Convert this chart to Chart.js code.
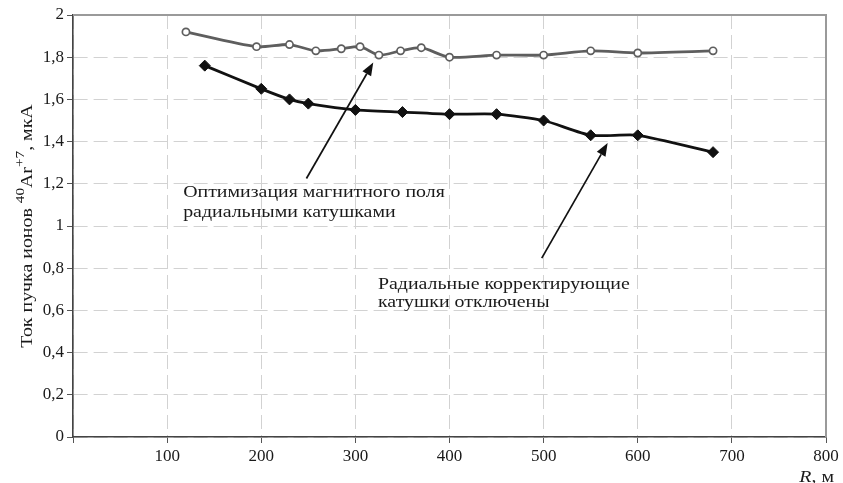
<!DOCTYPE html>
<html>
<head>
<meta charset="utf-8">
<script src="https://cdn.jsdelivr.net/npm/chart.js@4.4.1/dist/chart.umd.min.js"></script>
<style>
  html, body { margin: 0; padding: 0; background: #fff; }
  #wrap { width: 843px; height: 483px; }
</style>
</head>
<body>
<div id="wrap"><canvas id="c" width="843" height="483"></canvas></div>
<script>
// Beam current vs. radius, two operating modes
const rOptimized = [120, 195, 230, 258, 285, 305, 325, 348, 370, 400, 450, 500, 550, 600, 680];
const iOptimized = [1.92, 1.85, 1.86, 1.83, 1.84, 1.85, 1.81, 1.83, 1.845, 1.80, 1.81, 1.81, 1.83, 1.82, 1.83];

const rCoilsOff = [140, 200, 230, 250, 300, 350, 400, 450, 500, 550, 600, 680];
const iCoilsOff = [1.76, 1.65, 1.60, 1.58, 1.55, 1.54, 1.53, 1.53, 1.50, 1.43, 1.43, 1.35];

const xTicks = [0, 100, 200, 300, 400, 500, 600, 700, 800];
const yTicks = [0, 0.2, 0.4, 0.6, 0.8, 1, 1.2, 1.4, 1.6, 1.8, 2];

// Callout texts with arrows (data coordinates)
const notes = [
  { lines: ['Оптимизация магнитного поля', 'радиальными катушками'], x: 117, y: [1.158, 1.066],
    arrow: { from: [248, 1.225], to: [319, 1.775] } },
  { lines: ['Радиальные корректирующие', 'катушки отключены'], x: 324, y: [0.722, 0.636],
    arrow: { from: [498, 0.848], to: [568, 1.393] } }
];

const SERIF = '"Liberation Serif", "DejaVu Serif", serif';
const TEXT_STRETCH = 1.17;

function toPoints(xs, ys) { return xs.map((x, i) => ({ x: x, y: ys[i] })); }

// text widened along its own direction
function wideText(ctx, t, x, y) {
  ctx.save();
  ctx.translate(x, y);
  ctx.scale(TEXT_STRETCH, 1);
  ctx.fillText(t, 0, 0);
  ctx.restore();
  return ctx.measureText(t).width * TEXT_STRETCH;
}

const decorPlugin = {
  id: 'decor',
  afterDraw(chart) {
    const { ctx, chartArea: a, scales: { x, y } } = chart;
    ctx.save();
    // top and right frame
    ctx.strokeStyle = '#9a9a9a';
    ctx.lineWidth = 2;
    ctx.beginPath();
    ctx.moveTo(a.left, a.top);
    ctx.lineTo(a.right, a.top);
    ctx.lineTo(a.right, a.bottom);
    ctx.stroke();

    // callouts
    ctx.font = '17px ' + SERIF;
    ctx.textBaseline = 'middle';
    ctx.textAlign = 'left';
    notes.forEach(n => {
      ctx.fillStyle = '#1a1a1a';
      n.lines.forEach((t, i) => wideText(ctx, t, x.getPixelForValue(n.x), y.getPixelForValue(n.y[i])));
      const x1 = x.getPixelForValue(n.arrow.from[0]), y1 = y.getPixelForValue(n.arrow.from[1]);
      const x2 = x.getPixelForValue(n.arrow.to[0]), y2 = y.getPixelForValue(n.arrow.to[1]);
      const ang = Math.atan2(y2 - y1, x2 - x1);
      const hl = 13, hw = 5;
      const bx = x2 - hl * Math.cos(ang), by = y2 - hl * Math.sin(ang);
      ctx.strokeStyle = '#111';
      ctx.lineWidth = 1.7;
      ctx.beginPath();
      ctx.moveTo(x1, y1);
      ctx.lineTo(bx, by);
      ctx.stroke();
      ctx.fillStyle = '#111';
      ctx.beginPath();
      ctx.moveTo(x2, y2);
      ctx.lineTo(bx + hw * Math.sin(ang), by - hw * Math.cos(ang));
      ctx.lineTo(bx - hw * Math.sin(ang), by + hw * Math.cos(ang));
      ctx.closePath();
      ctx.fill();
    });

    // x axis title: italic R, regular ", м"
    ctx.textBaseline = 'alphabetic';
    ctx.fillStyle = '#1a1a1a';
    const tailTxt = ', м';
    ctx.font = '17px ' + SERIF;
    const wTail = ctx.measureText(tailTxt).width * TEXT_STRETCH;
    ctx.font = 'italic 17px ' + SERIF;
    const wR = ctx.measureText('R').width * TEXT_STRETCH;
    const xr = 834;
    wideText(ctx, 'R', xr - wTail - wR, 482);
    ctx.font = '17px ' + SERIF;
    wideText(ctx, tailTxt, xr - wTail, 482);

    // y axis title with superscripts, rotated
    const parts = [
      { t: 'Ток пучка ионов ', sup: false },
      { t: '40', sup: true },
      { t: 'Ar', sup: false },
      { t: '+7', sup: true },
      { t: ', мкА', sup: false }
    ];
    const fMain = '17px ' + SERIF, fSup = '13px ' + SERIF;
    let total = 0;
    parts.forEach(p => { ctx.font = p.sup ? fSup : fMain; p.w = ctx.measureText(p.t).width * TEXT_STRETCH; total += p.w; });
    ctx.translate(32, 226);
    ctx.rotate(-Math.PI / 2);
    let cx = -total / 2;
    parts.forEach(p => {
      ctx.font = p.sup ? fSup : fMain;
      wideText(ctx, p.t, cx, p.sup ? -8 : 0);
      cx += p.w;
    });
    ctx.restore();
  }
};

new Chart(document.getElementById('c'), {
  type: 'scatter',
  data: {
    datasets: [
      {
        data: toPoints(rOptimized, iOptimized),
        showLine: true,
        borderColor: '#5e5e5e',
        borderWidth: 2.8,
        tension: 0.25,
        pointStyle: 'circle',
        pointRadius: 3.6,
        pointBorderWidth: 1.7,
        pointBorderColor: '#5e5e5e',
        pointBackgroundColor: '#ffffff'
      },
      {
        data: toPoints(rCoilsOff, iCoilsOff),
        showLine: true,
        borderColor: '#111111',
        borderWidth: 2.8,
        tension: 0.2,
        pointStyle: 'rectRot',
        pointRadius: 5.5,
        pointBorderWidth: 1,
        pointBorderColor: '#111111',
        pointBackgroundColor: '#111111'
      }
    ]
  },
  options: {
    responsive: false,
    animation: false,
    devicePixelRatio: 1,
    layout: { padding: { top: 15, right: 17, left: 0, bottom: 0 } },
    plugins: { legend: { display: false }, tooltip: { enabled: false } },
    scales: {
      x: {
        type: 'linear',
        min: 0, max: 800,
        afterBuildTicks(s) { s.ticks = xTicks.map(v => ({ value: v })); },
        afterFit(s) { s.height = 46; },
        ticks: {
          color: '#1a1a1a',
          font: { family: SERIF, size: 17 },
          padding: 3,
          maxRotation: 0,
          callback: v => (v === 0 ? '' : String(v))
        },
        grid: {
          color: '#d2d2d2',
          lineWidth: 1,
          tickLength: 6,
          tickColor: '#555',
          tickWidth: 1,
          tickBorderDash: []
        },
        border: { display: true, color: '#444', width: 1.6, dash: [14, 6] }
      },
      y: {
        type: 'linear',
        min: 0, max: 2,
        afterBuildTicks(s) { s.ticks = yTicks.map(v => ({ value: v })); },
        afterFit(s) { s.width = 73; },
        ticks: {
          color: '#1a1a1a',
          font: { family: SERIF, size: 17 },
          padding: 3,
          callback: v => String(Math.round(v * 10) / 10).replace('.', ',')
        },
        grid: {
          color: '#d2d2d2',
          lineWidth: 1,
          tickLength: 6,
          tickColor: '#555',
          tickWidth: 1,
          tickBorderDash: []
        },
        border: { display: true, color: '#444', width: 1.6, dash: [14, 6] }
      }
    }
  },
  plugins: [decorPlugin]
});
</script>
</body>
</html>
